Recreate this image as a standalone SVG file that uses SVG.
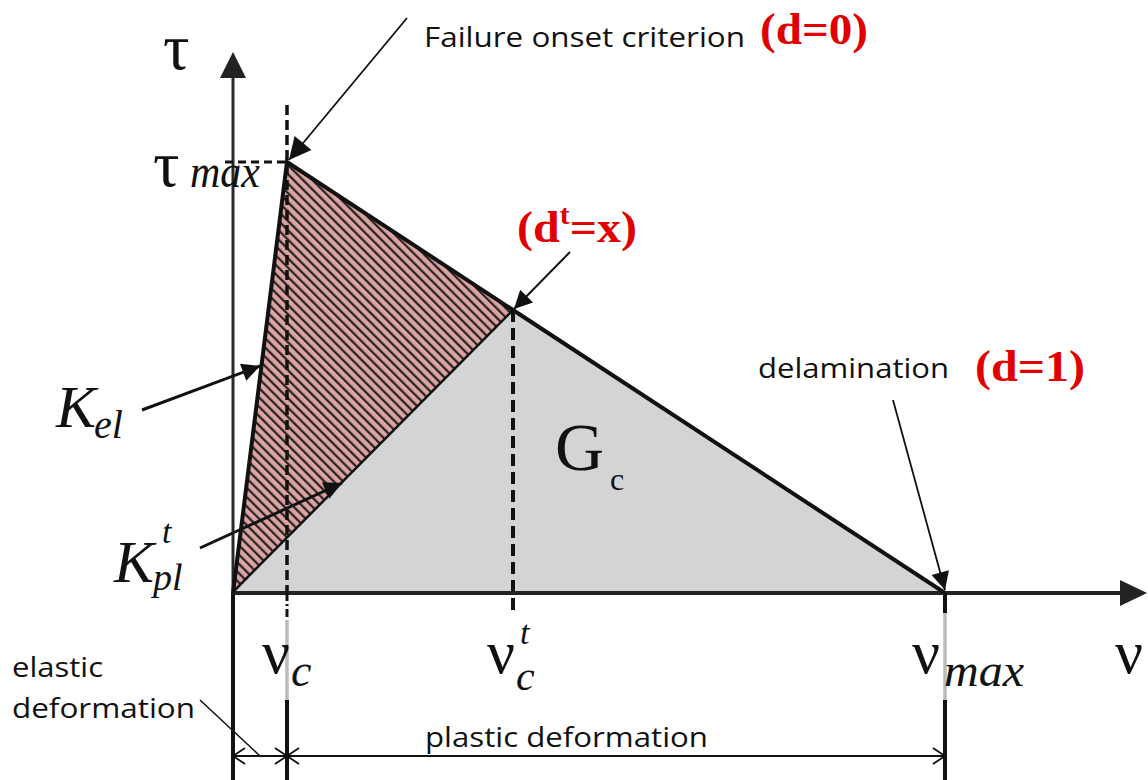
<svg xmlns="http://www.w3.org/2000/svg" width="1148" height="780" viewBox="0 0 1148 780">
<style>
.sans{font-family:"Open Sans","Noto Sans","Liberation Sans",sans-serif;fill:#111}
.red{font-family:"Liberation Serif","Times New Roman",serif;font-weight:bold;fill:#e00000}
.math{font-family:"Liberation Serif","DejaVu Serif",serif;fill:#111}
.it{font-style:italic}
.lead{stroke:#111;fill:none}
</style>
<defs>
<pattern id="hatch" patternUnits="userSpaceOnUse" width="6.6" height="6.6" patternTransform="rotate(-45)">
<rect width="6.6" height="6.6" fill="#dca3a3"/>
<line x1="1.2" y1="0" x2="1.2" y2="6.6" stroke="#1a1a1a" stroke-width="2.1"/>
</pattern>
<marker id="ah" viewBox="0 0 10 10" refX="10" refY="5" markerWidth="28" markerHeight="22" markerUnits="userSpaceOnUse" orient="auto">
<path d="M0,0 L10,5 L0,10 z" fill="#111"/>
</marker>
<marker id="ahs" viewBox="0 0 10 10" refX="10" refY="5" markerWidth="22" markerHeight="18" markerUnits="userSpaceOnUse" orient="auto">
<path d="M0,0 L10,5 L0,10 z" fill="#111"/>
</marker>
</defs>

<g id="areas">
<polygon points="233,593 513,310 945,593" fill="#d3d4d6"/>
<polygon points="233,592 287,162 513,310" fill="url(#hatch)"/>
</g>

<g id="axes">
<line x1="233" y1="593" x2="233" y2="76" stroke="#2a2a2a" stroke-width="3"/>
<polygon points="220,78 233,52 246,78" fill="#222"/>
<line x1="233" y1="593" x2="233" y2="780" stroke="#111" stroke-width="4"/>
<line x1="231" y1="593" x2="1122" y2="593" stroke="#222" stroke-width="4"/>
<polygon points="1120,580 1147,593 1120,606" fill="#222"/>
</g>

<g id="guides">
<line x1="225" y1="162" x2="287" y2="162" stroke="#111" stroke-width="3" stroke-dasharray="8,5"/>
<line x1="287" y1="105" x2="287" y2="593" stroke="#111" stroke-width="3.5" stroke-dasharray="10,5"/>
<line x1="287" y1="593" x2="287" y2="620" stroke="#111" stroke-width="3" stroke-dasharray="8,3,2,3"/>
<line x1="287" y1="620" x2="287" y2="700" stroke="#bbb" stroke-width="3.5"/>
<line x1="287" y1="700" x2="287" y2="780" stroke="#111" stroke-width="4"/>
<line x1="513" y1="310" x2="513" y2="612" stroke="#111" stroke-width="4" stroke-dasharray="12,6"/>
<line x1="945" y1="593" x2="945" y2="613" stroke="#111" stroke-width="4"/>
<line x1="945" y1="613" x2="945" y2="700" stroke="#bbb" stroke-width="3.5"/>
<line x1="945" y1="700" x2="945" y2="780" stroke="#111" stroke-width="4"/>
</g>

<g id="curve">
<line x1="233" y1="592" x2="513" y2="310" stroke="#111" stroke-width="2.5"/>
<polyline points="233,593 287,162 945,593" fill="none" stroke="#111" stroke-width="4" stroke-linejoin="miter"/>
</g>

<g id="connectors">
<line class="lead" x1="407" y1="18" x2="289" y2="160" stroke-width="1.8" marker-end="url(#ah)"/>
<line class="lead" x1="570" y1="252" x2="514" y2="309" stroke-width="2" marker-end="url(#ahs)"/>
<line class="lead" x1="893" y1="400" x2="945" y2="590" stroke-width="1.8" marker-end="url(#ahs)"/>
<line class="lead" x1="142" y1="410" x2="260" y2="366" stroke-width="3" marker-end="url(#ahs)"/>
<line class="lead" x1="200" y1="548" x2="342" y2="483" stroke-width="3" marker-end="url(#ahs)"/>
<line class="lead" x1="200" y1="700" x2="260" y2="756" stroke-width="1.5"/>
<line class="lead" x1="233" y1="756" x2="945" y2="756" stroke-width="1.8"/>
<polyline class="lead" points="245,748 233,756 245,764" stroke-width="1.8"/>
<polyline class="lead" points="275,748 287,756 275,764" stroke-width="1.8"/>
<polyline class="lead" points="299,748 287,756 299,764" stroke-width="1.8"/>
<polyline class="lead" points="933,748 945,756 933,764" stroke-width="1.8"/>
</g>

<g id="labels">
<text class="math" x="163" y="69" font-size="66">τ</text>
<text class="math" x="153" y="186" font-size="66">τ</text>
<text class="math it" x="190" y="187" font-size="46" textLength="70" lengthAdjust="spacingAndGlyphs">max</text>
<text class="sans" x="424" y="47" font-size="28" textLength="321" lengthAdjust="spacingAndGlyphs">Failure onset criterion</text>
<text class="red" x="760" y="44" font-size="45" textLength="108" lengthAdjust="spacingAndGlyphs">(d=0)</text>
<text class="red" x="517" y="242" font-size="45" textLength="120" lengthAdjust="spacingAndGlyphs">(d<tspan font-size="28" dy="-18">t</tspan><tspan dy="18">=x)</tspan></text>
<text class="sans" x="758" y="378" font-size="28" textLength="191" lengthAdjust="spacingAndGlyphs">delamination</text>
<text class="red" x="975" y="381" font-size="45" textLength="110" lengthAdjust="spacingAndGlyphs">(d=1)</text>
<text class="math" x="555" y="470" font-size="68">G<tspan font-size="32" dy="20" dx="6">c</tspan></text>
<text class="math it" x="56" y="427" font-size="60">K<tspan font-size="40" dy="11" dx="-2">el</tspan></text>
<text class="math it" x="114" y="582" font-size="60">K</text>
<text class="math it" x="162" y="543" font-size="34">t</text>
<text class="math it" x="153" y="590" font-size="38">pl</text>
<text class="math" x="262" y="673" font-size="62">ν</text>
<text class="math it" x="291" y="686" font-size="46">c</text>
<text class="math" x="487" y="673" font-size="62">ν</text>
<text class="math it" x="520" y="644" font-size="34">t</text>
<text class="math it" x="516" y="690" font-size="42">c</text>
<text class="math" x="912" y="673" font-size="62">ν</text>
<text class="math it" x="944" y="686" font-size="46" textLength="80" lengthAdjust="spacingAndGlyphs">max</text>
<text class="math" x="1115" y="673" font-size="62">ν</text>
<text class="sans" x="12" y="677" font-size="28" textLength="91" lengthAdjust="spacingAndGlyphs">elastic</text>
<text class="sans" x="12" y="718" font-size="28" textLength="183" lengthAdjust="spacingAndGlyphs">deformation</text>
<text class="sans" x="425" y="747" font-size="27" textLength="283" lengthAdjust="spacingAndGlyphs">plastic deformation</text>
</g>
</svg>
